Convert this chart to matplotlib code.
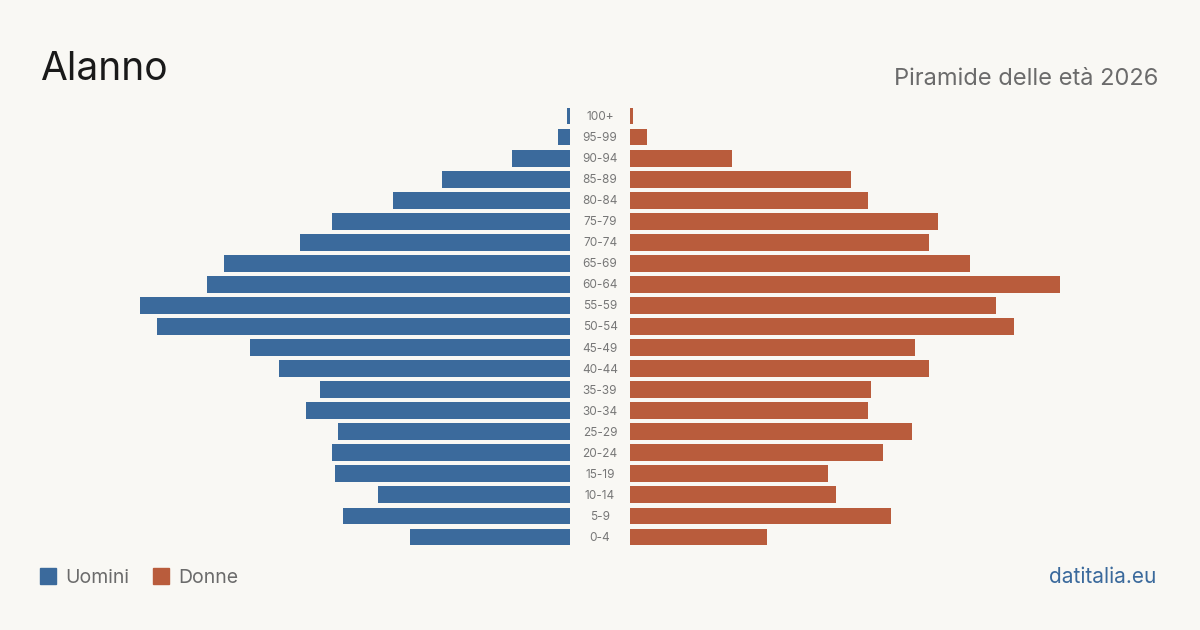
import matplotlib.pyplot as plt
from matplotlib.patches import Rectangle

plt.rcParams['font.family'] = ['Inter', 'DejaVu Sans']

age_groups = ["0-4", "5-9", "10-14", "15-19", "20-24", "25-29", "30-34", "35-39",
              "40-44", "45-49", "50-54", "55-59", "60-64", "65-69", "70-74",
              "75-79", "80-84", "85-89", "90-94", "95-99", "100+"]
men = [55, 78, 66, 81, 82, 80, 91, 86, 100, 110, 142, 148, 125, 119, 93,
       82, 61, 44, 20, 4, 1]
women = [47, 90, 71, 68, 87, 97, 82, 83, 103, 98, 132, 126, 148, 117, 103,
         106, 82, 76, 35, 6, 1]

bg = "#f9f8f4"
blue = "#3b6a9c"
orange = "#b95c3c"
gray = "#6b6b6b"

W, H = 1200, 630
fig = plt.figure(figsize=(12, 6.3), dpi=100, facecolor=bg)

xmax = max(max(men), max(women))
# axes in pixel coords: bars from y=105.5 to 547.5
y_top, y_bot = 105.5, 547.5
ax_l = fig.add_axes([140 / W, 1 - y_bot / H, 430 / W, (y_bot - y_top) / H])
ax_r = fig.add_axes([630 / W, 1 - y_bot / H, 430 / W, (y_bot - y_top) / H])

pos = list(range(len(age_groups)))
ax_l.barh(pos, men, height=0.8, color=blue)
ax_r.barh(pos, women, height=0.8, color=orange)
ax_l.set_xlim(xmax, 0)
ax_r.set_xlim(0, xmax)
for ax in (ax_l, ax_r):
    ax.set_ylim(-0.5, len(age_groups) - 0.5)
    ax.axis("off")
    ax.set_facecolor("none")

for i, lab in enumerate(age_groups):
    ax_r.annotate(lab, xy=(0, i), xycoords="data", xytext=(-30, -1),
                  textcoords="offset pixels", ha="center", va="center",
                  fontsize=8.5, color="#777777")

fig.text(40 / W, 1 - 80 / H, "Alanno", fontsize=28, color="#1a1a1a",
         ha="left", va="baseline")
fig.text(1158 / W, 1 - 85 / H, "Piramide delle età 2026", fontsize=17,
         color=gray, ha="right", va="baseline")

fig.add_artist(Rectangle((40 / W, 1 - 584 / H), 16 / W, 16 / H,
                         transform=fig.transFigure, color=blue))
fig.text(65 / W, 1 - 583 / H, "Uomini", fontsize=14, color=gray,
         ha="left", va="baseline")
fig.add_artist(Rectangle((153 / W, 1 - 584 / H), 16 / W, 16 / H,
                         transform=fig.transFigure, color=orange))
fig.text(178 / W, 1 - 583 / H, "Donne", fontsize=14, color=gray,
         ha="left", va="baseline")
fig.text(1156 / W, 1 - 583 / H, "datitalia.eu", fontsize=15, color=blue,
         ha="right", va="baseline")

fig.savefig("out.png", dpi=100, facecolor=bg)
